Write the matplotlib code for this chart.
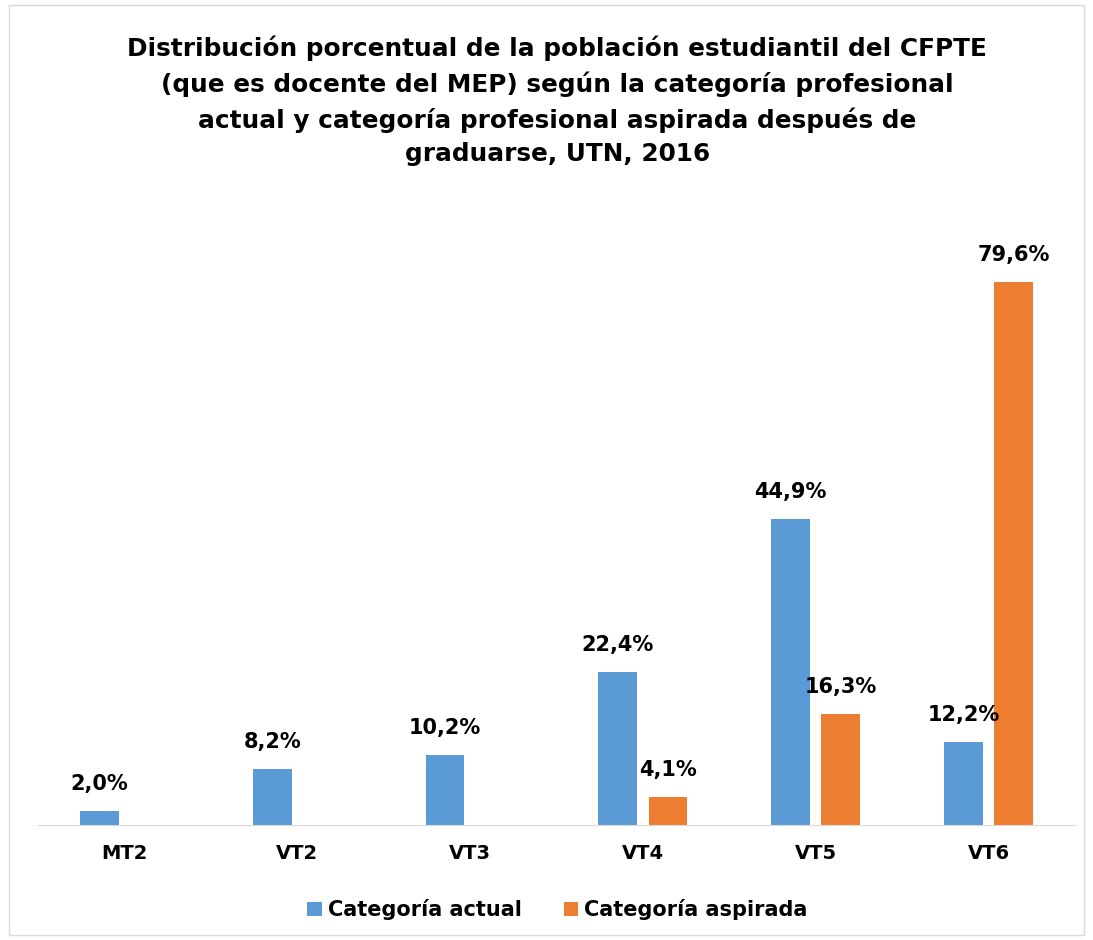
import numpy as np
import matplotlib
matplotlib.use("Agg")
import matplotlib.pyplot as plt
from matplotlib.patches import Rectangle

categories = ['MT2', 'VT2', 'VT3', 'VT4', 'VT5', 'VT6']
actual = [2.0, 8.2, 10.2, 22.4, 44.9, 12.2]
aspired = [None, None, None, 4.1, 16.3, 79.6]
series_names = ['Categoría actual', 'Categoría aspirada']
title = ('Distribución porcentual de la población estudiantil del CFPTE\n'
         '(que es docente del MEP) según la categoría profesional\n'
         'actual y categoría profesional aspirada después de\n'
         'graduarse, UTN, 2016')

plt.rcParams['font.family'] = ['DejaVu Sans']

fig = plt.figure(figsize=(10.93, 9.40), dpi=100)
ax = fig.add_axes([0.0348, 0.1223, 0.9487, 0.6277])

x = np.arange(len(categories))
w = 0.225
off = 0.145
blue = '#5B9BD5'
orange = '#ED7D31'

ax.bar(x - off, actual, w, color=blue, label=series_names[0])
asp_x = [xi + off for xi, v in zip(x, aspired) if v is not None]
asp_v = [v for v in aspired if v is not None]
ax.bar(asp_x, asp_v, w, color=orange, label=series_names[1])

def fmt(v):
    return ('%.1f' % v).replace('.', ',') + '%'

for xi, v in zip(x - off, actual):
    ax.text(xi, v + 2.5, fmt(v), ha='center', va='bottom', fontsize=15, fontweight='bold')
for xi, v in zip(asp_x, asp_v):
    ax.text(xi, v + 2.5, fmt(v), ha='center', va='bottom', fontsize=15, fontweight='bold')

ax.set_xlim(-0.5, len(categories) - 0.5)
ax.set_ylim(0, 86.5)
ax.set_yticks([])
ax.set_xticks(x)
ax.set_xticklabels(categories, fontsize=14, fontweight='bold')
ax.tick_params(axis='x', length=0, pad=14)
for s in ['top', 'right', 'left']:
    ax.spines[s].set_visible(False)
ax.spines['bottom'].set_color('#d9d9d9')

fig.text(0.51, 0.962, title, ha='center', va='top', fontsize=17.8, fontweight='bold',
         linespacing=1.5)

leg = fig.legend(loc='center', bbox_to_anchor=(0.51, 0.032), ncol=2, frameon=False,
                 prop={'size': 15, 'weight': 'bold'}, handlelength=0.7, handleheight=0.7,
                 columnspacing=2.0, handletextpad=0.3)

fig.patches.append(Rectangle((0.008, 0.005), 0.984, 0.99, transform=fig.transFigure,
                             fill=False, edgecolor='#d9d9d9', linewidth=1))

fig.savefig('out.png', dpi=100)
